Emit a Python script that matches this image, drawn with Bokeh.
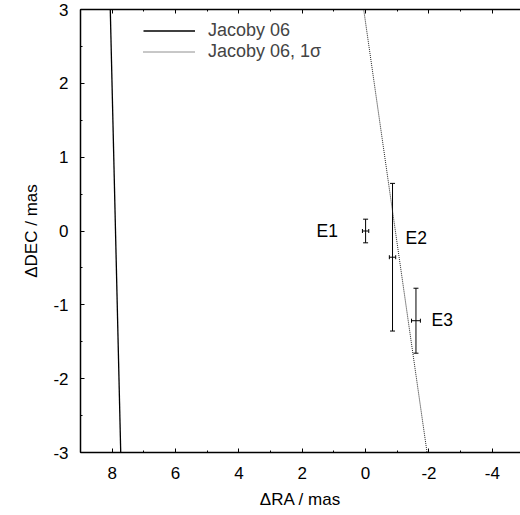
from bokeh.plotting import figure
from bokeh.models import (Range1d, SingleIntervalTicker, LinearAxis, Legend, LegendItem,
                          Whisker, ColumnDataSource, TeeHead, PrintfTickFormatter,
                          CustomJSTickFormatter)
from bokeh.core.properties import value
from bokeh.embed import file_html
from bokeh.resources import INLINE

# ---- data ----
epoch_names = ["E1", "E2", "E3"]
ra = [0.0, -0.85, -1.59]
dec = [0.0, -0.355, -1.215]
ra_err = [0.10, 0.10, 0.14]
dec_err = [0.16, 1.00, 0.44]
label_ra = [1.55, -1.26, -2.08]
label_dec = [0.0, -0.10, -1.20]

jacoby_ra = [8.06, 7.73]
jacoby_dec = [3.0, -3.0]
jacoby1s_ra = [0.06, -1.94]
jacoby1s_dec = [3.0, -3.0]

FONT = "Liberation Sans"
FS = "17px"

p = figure(width=520, height=515, output_backend="svg", toolbar_location=None,
           x_range=Range1d(9, -4.89), y_range=Range1d(-3, 3),
           min_border_left=80, min_border_right=0, min_border_top=9, min_border_bottom=63)
p.grid.visible = False
p.outline_line_color = None
p.background_fill_color = "white"
p.border_fill_color = "white"

for ax in (p.xaxis[0], p.yaxis[0]):
    ax.major_tick_in = 4
    ax.major_tick_out = 0
    ax.minor_tick_in = 2
    ax.minor_tick_out = 0
    ax.axis_line_width = 1.5
    ax.axis_line_color = "black"
    ax.major_tick_line_color = "black"
    ax.minor_tick_line_color = "black"
    ax.major_label_text_font = FONT
    ax.major_label_text_font_size = FS
    ax.major_label_text_color = "black"
    ax.axis_label_text_font = FONT
    ax.axis_label_text_font_size = FS
    ax.axis_label_text_font_style = "normal"
    ax.axis_label_text_color = "black"
    ax.formatter = PrintfTickFormatter(format="%d")

p.xaxis[0].ticker = SingleIntervalTicker(interval=2, num_minor_ticks=2)
p.yaxis[0].ticker = SingleIntervalTicker(interval=1, num_minor_ticks=2)
p.xaxis[0].axis_label = "ΔRA / mas"
p.yaxis[0].axis_label = "ΔDEC / mas"
p.xaxis[0].major_label_standoff = 14
p.yaxis[0].major_label_standoff = 12
p.xaxis[0].axis_label_standoff = 8
p.yaxis[0].axis_label_standoff = 9

top = LinearAxis(ticker=SingleIntervalTicker(interval=2, num_minor_ticks=2),
                 formatter=CustomJSTickFormatter(code="return ''"),
                 major_label_standoff=0,
                 major_tick_in=4, major_tick_out=0, minor_tick_in=2, minor_tick_out=0,
                 axis_line_width=1.5)
p.add_layout(top, "above")

r1 = p.line(jacoby_ra, jacoby_dec, line_color="black", line_width=1.3)
r2 = p.line(jacoby1s_ra, jacoby1s_dec, line_color="#222222", line_width=1, line_dash="1 1")

src = ColumnDataSource(dict(
    ra=ra, dec=dec,
    ra_lo=[a - e for a, e in zip(ra, ra_err)], ra_hi=[a + e for a, e in zip(ra, ra_err)],
    dec_lo=[a - e for a, e in zip(dec, dec_err)], dec_hi=[a + e for a, e in zip(dec, dec_err)],
))
wy = Whisker(source=src, base="ra", lower="dec_lo", upper="dec_hi", dimension="height",
             line_color="black", line_width=1,
             upper_head=TeeHead(size=5, line_color="black", line_width=1),
             lower_head=TeeHead(size=5, line_color="black", line_width=1))
wx = Whisker(source=src, base="dec", lower="ra_lo", upper="ra_hi", dimension="width",
             line_color="black", line_width=1,
             upper_head=TeeHead(size=4, line_color="black", line_width=1),
             lower_head=TeeHead(size=4, line_color="black", line_width=1))
p.add_layout(wy)
p.add_layout(wx)

p.text(x=label_ra, y=label_dec, text=epoch_names, text_font=value(FONT),
       text_font_size="17.5px", text_align="left", text_baseline="middle", text_color="black")

legend = Legend(items=[LegendItem(label="Jacoby 06", renderers=[r1]),
                       LegendItem(label="Jacoby 06, 1σ", renderers=[r2])],
                location=(63, 390), border_line_alpha=0, background_fill_alpha=0,
                padding=0, margin=0, spacing=0, glyph_width=52, glyph_height=19,
                label_height=19, label_standoff=13,
                label_text_font=FONT, label_text_font_size="18px")
p.add_layout(legend)

open("out.html", "w").write(file_html(p, INLINE))
